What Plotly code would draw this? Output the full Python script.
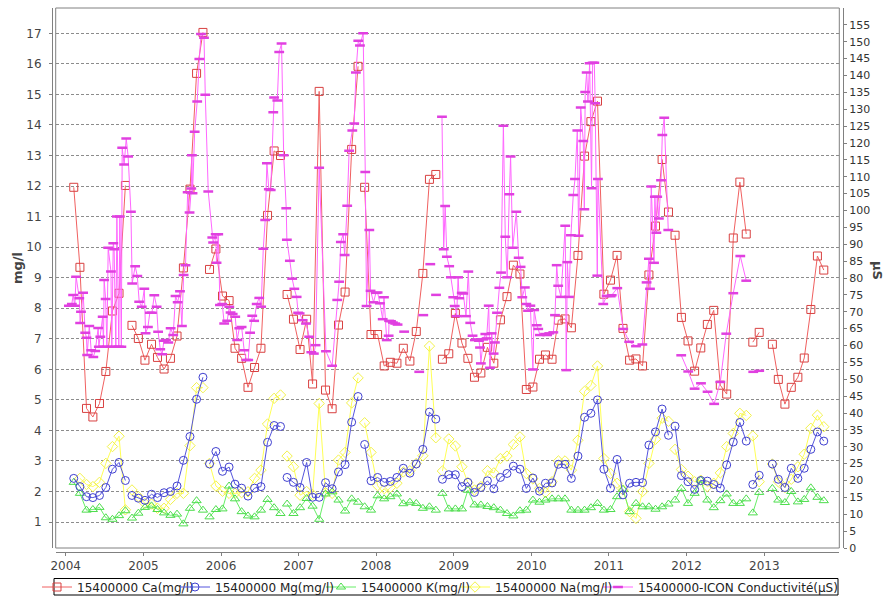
import plotly.graph_objects as go

# ---- monthly lab samples (None = break in the line) ----
months = [
    "2004-02-08", "2004-03-08", "2004-04-08", "2004-05-08", "2004-06-08", "2004-07-08",
    "2004-08-08", "2004-09-08", "2004-10-08", "2004-10-24",
    "2004-11-08", "2004-12-08", "2005-01-08", "2005-02-08", "2005-03-08", "2005-04-08",
    "2005-05-08", "2005-06-08", "2005-07-08", "2005-08-08", "2005-09-08", "2005-10-08", "2005-10-24",
    "2005-11-08", "2005-12-08", "2006-01-08", "2006-02-08", "2006-03-08", "2006-04-08",
    "2006-05-08", "2006-06-08", "2006-07-08", "2006-08-08", "2006-09-08", "2006-10-08", "2006-10-24",
    "2006-11-08", "2006-12-08", "2007-01-08", "2007-02-08", "2007-03-08", "2007-04-08",
    "2007-05-08", "2007-06-08", "2007-07-08", "2007-08-08", "2007-09-08", "2007-10-08", "2007-10-24",
    "2007-11-08", "2007-12-08", "2008-01-08", "2008-02-08", "2008-03-08", "2008-04-08",
    "2008-05-08", "2008-06-08", "2008-07-08", "2008-08-08", "2008-09-08", "2008-10-08", "2008-10-24",
    "2008-11-08", "2008-12-08", "2009-01-08", "2009-02-08", "2009-03-08", "2009-04-08",
    "2009-05-08", "2009-06-08", "2009-07-08", "2009-08-08", "2009-09-08", "2009-10-08",
    "2009-11-08", "2009-12-08", "2010-01-08", "2010-02-08", "2010-03-08", "2010-04-08",
    "2010-05-08", "2010-06-08", "2010-07-08", "2010-08-08", "2010-09-08", "2010-10-08",
    "2010-11-08", "2010-12-08", "2011-01-08", "2011-02-08", "2011-03-08", "2011-04-08",
    "2011-05-08", "2011-06-08", "2011-07-08", "2011-08-08", "2011-09-08", "2011-10-08", "2011-10-24",
    "2011-11-08", "2011-12-08", "2012-01-08", "2012-02-08", "2012-03-08", "2012-04-08",
    "2012-05-08", "2012-06-08", "2012-07-08", "2012-08-08", "2012-09-08", "2012-10-08", "2012-10-24",
    "2012-11-08", "2012-12-08", "2013-01-08",
    "2013-02-08", "2013-03-08", "2013-04-08", "2013-05-08", "2013-06-08", "2013-07-08",
    "2013-08-08", "2013-09-08", "2013-10-08",
]

ca = [
    11.96, 9.34, 4.72, 4.44, 4.88, 5.93, 7.91, 8.49, 12.02, None,
    7.44, 7.01, 6.30, 6.82, 6.39, 6.01, 6.36, 7.09, 9.32, 11.90, 15.69, 17.03, None,
    9.27, 9.94, 8.40, 8.25, 6.69, 6.36, 5.41, 6.06, 6.69, 11.04, 13.15, 13.00, None,
    8.45, 7.64, 6.65, 7.64, 5.52, 15.10, 5.32, 4.71, 7.45, 8.53, 13.20, 15.92, None,
    11.96, 7.14, 7.14, 6.11, 6.23, 6.20, 6.69, 6.27, 7.24, 9.14, 12.22, 12.38, None,
    6.33, 6.51, 7.83, 6.86, 6.36, 5.74, 5.88, 6.72, 6.20, 7.62, 8.38, 9.41,
    9.12, 5.34, 5.42, 6.33, 6.47, 6.33, 7.61, 7.65, 7.36, 9.73, 12.98, 14.11,
    14.78, 8.46, 8.92, 9.73, 7.34, 6.30, 6.34, 6.11, 9.09, 10.69, 12.87, 11.15, None,
    10.39, 7.70, 6.93, 5.94, 6.70, 7.47, 7.93, 5.48, 5.19, 10.30, 12.13, 10.43, None,
    6.89, 7.21, None,
    6.82, 5.67, 4.86, 5.41, 5.74, 6.37, 7.96, 9.71, 9.25,
]

mg = [
    2.43, 2.16, 1.83, 1.80, 1.87, 2.13, 2.73, 2.95, 2.36, None,
    1.87, 1.78, 1.71, 1.91, 1.80, 1.96, 2.00, 2.18, 3.02, 3.80, 5.02, 5.74, None,
    2.90, 3.31, 2.66, 2.80, 2.24, 2.11, 1.85, 2.11, 2.16, 3.61, 4.16, 4.13, None,
    2.46, 2.30, 2.13, 2.95, 1.81, 1.81, 2.29, 2.09, 2.64, 2.88, 4.27, 5.11, None,
    3.54, 2.35, 2.46, 2.30, 2.33, 2.46, 2.76, 2.60, 2.90, 3.38, 4.60, 4.37, None,
    2.40, 2.55, 2.55, 2.16, 2.30, 1.97, 2.13, 2.35, 2.09, 2.46, 2.59, 2.83,
    2.73, 2.10, 2.44, 2.01, 2.27, 2.28, 2.89, 2.89, 2.43, 3.16, 4.43, 4.56,
    5.00, 2.73, 2.11, 3.05, 1.89, 2.27, 2.30, 2.29, 3.52, 3.95, 4.70, 3.84, None,
    4.14, 2.52, 2.32, 2.07, 2.36, 2.34, 2.23, 2.11, 2.87, 3.62, 4.26, 3.65, None,
    2.23, 2.53, None,
    2.90, 2.40, 2.13, 2.76, 2.43, 2.76, 3.38, 3.95, 3.65,
]

k = [
    2.30, 1.94, 1.39, 1.41, 1.48, 1.14, 1.09, 1.21, 1.37, None,
    1.13, 1.29, 1.48, 1.53, 1.41, 1.30, 1.22, 1.26, 0.94, 1.45, 1.70, 1.39, None,
    1.17, 1.41, 1.43, 2.18, 1.76, 1.34, 1.20, 1.17, 1.39, 1.74, 1.47, 1.28, None,
    1.59, 1.28, 1.47, 1.77, 1.52, 1.09, 1.92, 1.99, 1.72, 1.36, 1.76, 1.65, None,
    1.50, 1.39, 1.86, 1.76, 1.83, 1.92, 1.60, 1.65, 1.61, 1.45, 1.50, 1.39, None,
    1.94, 1.43, 1.43, 1.43, 2.04, 1.56, 1.56, 1.51, 1.47, 1.39, 1.28, 1.20,
    1.37, 1.39, 1.72, 1.65, 1.72, 1.76, 1.76, 1.76, 1.39, 1.39, 1.39, 1.47,
    1.61, 1.39, 1.41, 1.83, 2.07, 1.34, 1.61, 1.50, 1.50, 1.42, 1.50, 1.59, None,
    1.72, 2.10, 1.61, 1.94, 2.37, 1.72, 1.47, 1.70, 1.92, 1.61, 1.61, 1.76, None,
    1.30, 1.97, None,
    2.10, 1.72, 1.64, 2.00, 1.66, 1.74, 2.12, 1.81, 1.70,
]

na = [
    None, 2.43, 2.23, 2.16, 2.30, 2.92, 3.47, 3.81, 1.40, None,
    2.05, 1.83, 1.61, 1.59, 1.45, 1.45, 1.74, 1.94, 1.94, 3.50, 5.40, 5.40, None,
    2.92, 2.18, 2.01, 1.94, 1.94, 1.96, 1.99, 2.43, 2.70, 4.21, 5.05, 5.16, None,
    3.16, 2.81, 1.88, 2.00, 1.90, 4.88, 1.96, 1.94, 3.03, 3.28, 4.90, 5.72, None,
    4.25, 3.28, 2.19, 1.92, 2.13, 2.27, 2.64, 2.68, 2.92, 3.17, 6.76, 3.76, None,
    2.67, 3.72, 3.49, 2.81, 2.29, 2.05, 2.16, 2.68, 2.61, 3.08, 3.16, 3.54,
    3.79, 2.59, 2.41, 2.10, 1.97, 2.32, 3.00, 3.00, 2.70, 3.68, 5.28, 5.47,
    6.11, 3.08, 2.59, 2.27, 2.05, 1.34, 1.12, 2.00, 2.92, 3.71, 4.40, 4.30, None,
    3.38, 2.72, 2.50, 2.32, 2.37, 2.16, 2.27, 2.61, 3.47, 3.90, 4.56, 4.49, None,
    3.82, 2.32, None,
    2.90, 2.32, 2.13, 2.40, 2.81, 3.22, 4.07, 4.50, 4.12,
]

# ---- probe conductivity (right axis) ----
cond_dates = [
    "2004-01-16", "2004-01-30", "2004-02-05", "2004-02-13", "2004-02-19", "2004-03-05",
    "2004-03-09", "2004-03-13", "2004-03-23", "2004-04-02", "2004-04-08", "2004-04-11",
    "2004-04-21", "2004-04-30", "2004-05-10", "2004-05-19", "2004-06-02", "2004-06-05",
    "2004-06-12", "2004-06-23", "2004-06-27", "2004-06-30", "2004-07-07", "2004-07-13",
    "2004-07-19", "2004-08-01", "2004-08-05", "2004-08-12", "2004-08-16", "2004-08-24",
    "2004-08-29", "2004-09-07", "2004-09-12", "2004-09-19", "2004-09-23", "2004-10-02",
    "2004-10-12", "2004-10-21", "2004-11-03", "2004-11-09", "2004-11-23", "2004-12-03",
    "2004-12-12", "2004-12-24",
    "2005-01-05", "2005-01-11", "2005-01-22", "2005-01-31", "2005-02-10", "2005-02-21",
    "2005-03-04", "2005-03-11", "2005-03-21", "2005-03-30", "2005-04-07", "2005-04-17",
    "2005-04-28", "2005-05-09", "2005-05-21", "2005-06-01", "2005-06-11", "2005-06-22",
    "2005-07-01", "2005-07-09", "2005-07-18", "2005-07-28", "2005-08-06", "2005-08-14",
    "2005-08-17", "2005-08-20", "2005-08-30", "2005-09-11", "2005-09-21", "2005-09-29",
    "2005-10-13", "2005-10-19", "2005-11-02", "2005-11-21", "2005-11-25", "2005-12-07",
    "2005-12-11", "2005-12-19", "2005-12-27",
    "2006-01-07", "2006-01-16", "2006-01-30", "2006-02-09", "2006-02-15", "2006-02-25",
    "2006-03-09", "2006-03-18", "2006-03-28", "2006-04-08", "2006-04-20", "2006-04-30",
    "2006-05-09", "2006-05-18", "2006-05-28", "2006-06-06", "2006-06-18", "2006-06-30",
    "2006-07-09", "2006-07-19", "2006-07-28", "2006-08-05", "2006-08-14", "2006-08-23",
    "2006-09-04", "2006-09-08", "2006-09-23", "2006-10-02", "2006-10-13", "2006-10-23",
    "2006-11-04", "2006-11-07", "2006-11-21", "2006-12-02", "2006-12-12", "2006-12-23",
    "2006-12-30",
    "2007-01-06", "2007-01-20", "2007-02-05", "2007-02-20", "2007-03-02", "2007-03-14",
    "2007-03-22", "2007-04-08", "2007-05-10", "2007-06-08", "2007-07-02", "2007-07-11",
    "2007-07-19", "2007-07-30", "2007-08-06", "2007-08-18", "2007-08-27", "2007-09-11",
    "2007-09-20", "2007-09-28", "2007-10-09", "2007-10-17", "2007-11-01", "2007-11-11",
    "2007-11-17", "2007-11-30", "2007-12-06", "2007-12-20", "2007-12-31",
    "2008-01-08", "2008-01-19", "2008-02-01", "2008-02-07", "2008-02-20", "2008-02-29",
    "2008-03-02", "2008-03-11", "2008-03-20", "2008-03-31", "2008-04-11", "2008-04-25",
    "2008-05-12", "2008-06-15", "2008-07-22", "2008-08-01", "2008-08-10", "2008-08-25",
    "2008-09-12", "2008-09-25", "2008-10-09", "2008-10-25",
    "2008-11-06", "2008-11-14", "2008-11-21", "2008-11-29", "2008-12-10", "2008-12-18",
    "2008-12-29", "2009-01-05", "2009-01-14", "2009-01-21", "2009-01-26", "2009-02-07",
    "2009-02-14", "2009-02-27", "2009-03-10", "2009-03-19", "2009-03-30", "2009-04-10",
    "2009-04-20", "2009-04-29", "2009-05-04", "2009-05-08", "2009-05-19", "2009-05-29",
    "2009-06-04", "2009-06-14", "2009-06-20", "2009-06-28", "2009-07-07", "2009-07-13",
    "2009-07-23", "2009-08-03", "2009-08-11", "2009-08-22", "2009-08-31", "2009-09-09",
    "2009-09-19", "2009-09-25", "2009-10-05", "2009-10-22", "2009-11-02", "2009-11-11",
    "2009-11-19", "2009-12-01", "2009-12-08", "2009-12-16", "2009-12-27",
    "2010-01-08", "2010-01-14", "2010-01-26", "2010-02-02", "2010-02-10", "2010-03-06",
    "2010-03-16", "2010-03-26", "2010-04-14", "2010-04-22", "2010-04-30", "2010-05-07",
    "2010-05-20", "2010-06-09", "2010-06-14", "2010-06-19", "2010-06-27", "2010-07-06",
    "2010-07-17", "2010-07-25", "2010-08-05", "2010-08-11", "2010-08-21", "2010-09-02",
    "2010-09-07", "2010-09-11", "2010-09-18", "2010-09-24", "2010-10-02", "2010-10-11",
    "2010-10-16", "2010-10-24", "2010-10-28", "2010-11-07", "2010-11-10", "2010-12-05",
    "2010-12-21",
    "2011-01-09", "2011-01-14", "2011-02-09", "2011-03-09", "2011-04-06", "2011-05-08",
    "2011-06-07", "2011-06-27", "2011-07-08", "2011-07-13", "2011-07-19", "2011-08-01",
    "2011-08-05", "2011-08-12", "2011-08-16", "2011-08-24", "2011-09-03", "2011-09-09",
    "2011-09-18", "2011-10-07", "2011-10-24",
    "2011-12-07", "2012-01-09", "2012-02-08", "2012-03-09", "2012-04-09", "2012-05-10",
    "2012-06-08", "2012-07-06", "2012-08-08", "2012-09-10", "2012-10-08", "2012-10-24",
    "2012-11-10", "2012-12-08",
]

cond = [
    71.8, 72.3, 75.0, 71.8, 80.4, 74.0,
    66.7, 70.0, 75.6, 63.8, 62.3, 57.2,
    65.8, 58.6, 56.6, 58.4, 65.2, 59.6,
    62.6, 68.5, 59.6, 79.4, 73.8, 59.6,
    89.0, 81.9, 59.6, 90.3, 88.5, 59.6,
    98.2, 59.6, 98.2, 59.6, 118.6, 113.6,
    121.3, 116.0, 99.6, 78.4, 83.5, 80.6,
    73.0, 71.5,
    76.8, 63.6, 65.5, 69.7, 69.7, 74.9,
    71.5, 64.1, 58.9, 57.4, 61.4, 61.6,
    60.9, 65.1, 63.1, 74.7, 72.8, 76.1,
    65.8, 80.9, 83.8, 105.4, 99.4, 106.5,
    116.4, 105.1, 123.3, 132.3, 144.9, 152.3,
    151.2, 134.3, 105.6, 92.0, 90.5, 93.0,
    84.5, 93.0, 72.0,
    72.3, 66.5, 67.3, 71.5, 69.8, 69.3,
    68.5, 61.6, 65.1, 65.5, 58.6, 55.7,
    55.7, 63.8, 68.8, 67.3, 72.3, 74.1,
    71.5, 88.7, 97.2, 114.0, 106.3, 106.1,
    129.1, 133.5, 132.6, 147.0, 149.5, 116.4,
    100.7, 91.3, 85.1, 79.8, 76.8, 74.4,
    69.7,
    69.5, 67.5, 66.5, 62.6, 58.0, 57.6,
    60.1, 112.7, 58.3, 54.0, 73.5, 78.9,
    90.7, 93.0, 86.8, 101.4, 117.7, 123.7,
    125.8, 140.9, 150.3, 148.9, 152.5, 111.4,
    71.7, 94.2, 76.2, 72.8, 75.6,
    75.7, 72.5, 67.8, 74.3, 61.6, 62.9,
    67.3, 67.2, 66.8, 66.5, 66.2, None,
    64.1, None, 52.2, None, 69.0, None,
    84.1, None, 75.0, None,
    127.8, 88.5, 101.3, 86.3, 83.5, 80.2,
    74.3, 71.7, 68.7, 80.2, 74.0, 75.6,
    75.4, 68.7, 81.9, 66.7, 62.9, 61.6,
    61.8, 61.4, 59.4, 54.7, 61.8, 63.4,
    62.1, 71.8, 53.4, 63.6, 57.6, 60.9,
    69.7, 77.1, 81.6, 125.1, 92.2, 80.2,
    104.8, 116.0, 89.0, 99.6, 86.0, 83.3,
    74.3, 77.2, 72.3, 70.3, 71.8,
    52.9, 70.5, 66.0, 64.9, 63.1, 63.4,
    63.1, 63.6, 63.9, 69.0, 83.8, 77.7,
    74.4, 95.5, 52.7, 84.7, 74.4, 92.7,
    104.6, 109.3, 123.7, 92.5, 130.5, 120.6,
    100.4, 135.1, 140.9, 132.3, 143.6, 106.6,
    143.8, 143.8, 131.8, 80.7, 109.3, 72.3,
    74.7,
    74.6, 74.9, 77.0, 64.9, 61.1, 59.8,
    60.3, 78.7, 85.7, 76.8, 107.1, 84.5,
    104.1, 93.4, 104.1, 97.6, 109.0, 122.4,
    127.5, 94.2, None,
    57.1, 52.3, 47.2, 48.8, 46.3, 42.7,
    49.2, 63.5, 75.5, 86.5, 79.2, None,
    52.2, 52.5,
]

left_ticks = list(range(1, 18))
right_ticks = list(range(0, 160, 5))

FONT = "DejaVu Sans"
AXIS_GREY = "#808080"

# figure geometry (px): paper area spans the offset axis lines
W, H = 892, 598
ML, MR, MT, MB = 52, 49, 8, 46
PW, PH = W - ML - MR, H - MT - MB


def px_x(px):
    return (px - ML) / PW


def px_y(py):
    return (H - MB - py) / PH


fig = go.Figure()

# conductivity first so the lab series sit on top of it
fig.add_trace(go.Scatter(
    x=cond_dates, y=cond, yaxis="y2", mode="lines+markers",
    name="15400000-ICON Conductivité(µS)", legend="legend5",
    line=dict(color="#ff66ff", width=1),
    marker=dict(symbol="line-ew", size=7, line=dict(color="#e040e0", width=2.5)),
))

series = [
    ("15400000 Na(mg/l)", na, "#ffff55", "#f2f24a", "diamond-open", "legend4"),
    ("15400000 K(mg/l)", k, "#66ee66", "#4ddd4d", "triangle-up-open", "legend3"),
    ("15400000 Mg(mg/l)", mg, "#5555dd", "#4040d0", "circle-open", "legend2"),
    ("15400000 Ca(mg/l)", ca, "#f06060", "#d84040", "square-open", "legend"),
]
for name, vals, lcol, mcol, sym, leg in series:
    fig.add_trace(go.Scatter(
        x=months, y=vals, mode="lines+markers", name=name, legend=leg,
        line=dict(color=lcol, width=1),
        marker=dict(symbol=sym, size=8, color=mcol, line=dict(color=mcol, width=1)),
    ))

# plot-area frame
fig.add_shape(type="rect", xref="x domain", yref="y domain",
              x0=0, x1=1, y0=0, y1=1, line=dict(color=AXIS_GREY, width=1))

# legend frame (items are placed one legend each inside it)
fig.add_shape(type="rect", xref="paper", yref="paper",
              x0=px_x(54), x1=px_x(838), y0=px_y(595), y1=px_y(578.5),
              line=dict(color="black", width=1), layer="above")

fig.add_annotation(text="<b>mg/l</b>", xref="paper", yref="paper",
                   x=px_x(17), y=px_y(268), xanchor="center", yanchor="middle",
                   textangle=-90, showarrow=False,
                   font=dict(family=FONT, size=13, color="#444"))
fig.add_annotation(text="<b>µS</b>", xref="paper", yref="paper",
                   x=px_x(878), y=px_y(270), xanchor="center", yanchor="middle",
                   textangle=90, showarrow=False,
                   font=dict(family=FONT, size=13, color="#444"))

legend_text_x = {"legend": 77, "legend2": 215, "legend3": 361, "legend4": 495, "legend5": 638}
legend_style = {}
for leg, tx in legend_text_x.items():
    legend_style[leg] = dict(
        x=px_x(tx - 40), xanchor="left", y=px_y(587), yanchor="middle",
        orientation="h", bgcolor="rgba(0,0,0,0)", borderwidth=0,
        font=dict(family=FONT, size=12, color="#222"), itemwidth=30,
    )

fig.update_layout(
    width=W, height=H,
    margin=dict(l=ML, r=MR, t=MT, b=MB, autoexpand=False),
    plot_bgcolor="white", paper_bgcolor="white",
    font=dict(family=FONT, size=12, color="#444"),
    showlegend=True,
    xaxis=dict(
        type="date", domain=[px_x(55.7), px_x(839.3)],
        range=["2003-11-15", "2013-12-20"],
        anchor="free", position=0, automargin=False,
        tick0="2004-01-01", dtick="M12", tickformat="%Y",
        showline=True, linecolor=AXIS_GREY, ticks="outside", ticklen=3,
        tickcolor=AXIS_GREY, showgrid=False, zeroline=False,
        tickfont=dict(size=12, color="#444"),
    ),
    yaxis=dict(
        domain=[px_y(548), 1], range=[0.15, 17.83],
        anchor="free", position=0, automargin=False,
        tickvals=left_ticks, ticklabelstandoff=5,
        showline=True, linecolor=AXIS_GREY, ticks="outside", ticklen=3,
        tickcolor=AXIS_GREY, showgrid=True, gridcolor="#8c8c8c",
        griddash="3px,2px", gridwidth=1, zeroline=False,
        tickfont=dict(size=12, color="#444"),
    ),
    yaxis2=dict(
        overlaying="y", side="right", anchor="free", position=1, automargin=False,
        range=[0, 160], tickvals=right_ticks,
        showline=True, linecolor=AXIS_GREY, ticks="outside", ticklen=3,
        tickcolor=AXIS_GREY, showgrid=False, zeroline=False,
        tickfont=dict(size=11, color="#333"),
    ),
    **legend_style,
)

# the page's default 8px body margin would shift the whole figure
fig.write_html("out.html", config={"displayModeBar": False},
               post_script="document.body.style.margin='0';")
